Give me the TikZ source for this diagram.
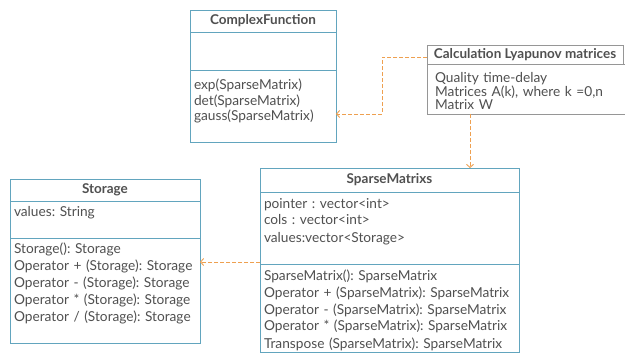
\documentclass[tikz,border=0pt]{standalone}
\usepackage{fontspec}
\setmainfont{Lato}
\frenchspacing
\usetikzlibrary{positioning,arrows.meta}
\definecolor{umlblue}{RGB}{98,165,190}
\definecolor{txtgray}{RGB}{80,80,80}
\definecolor{boxgray}{RGB}{150,150,150}
\definecolor{deporange}{RGB}{238,160,80}
\begin{document}
\begin{tikzpicture}[x=1pt,y=-1pt]
	% Estilos
	\tikzstyle{head} = [rectangle, draw=umlblue, line width=0.8pt, outer sep=0pt, inner xsep=4pt, minimum height=22pt, align=center, text=txtgray, font=\bfseries\fontsize{13.5}{17}\selectfont]
	\tikzstyle{part} = [rectangle, draw=umlblue, line width=0.8pt, outer sep=0pt, inner xsep=4pt, inner ysep=2pt, text height=14pt, align=left, text=txtgray, font=\fontsize{13.7}{17}\selectfont]
	\tikzstyle{dep} = [draw=deporange, line width=0.9pt, dash pattern=on 4pt off 2pt, ->, >={Straight Barb[length=3pt,width=7pt]}]
	\useasboundingbox [fill=white] (0,0) rectangle (625,353);
	% Classe ComplexFunction
	\node (cfHead) [head, text width=138pt, anchor=north west] at (190,10) {ComplexFunction};
	\node (cfAttr) [part, text width=138pt, text depth=20pt, below=0pt of cfHead] {};
	\node (cfMeth) [part, text width=138pt, text height=18pt, text depth=50pt, below=0pt of cfAttr, font=\fontsize{13.7}{15.5}\selectfont] {exp(SparseMatrix)\\det(SparseMatrix)\\gauss(SparseMatrix)};
	% Calculo
	\node (calcHead) [rectangle, draw=boxgray, line width=0.8pt, outer sep=0pt, inner xsep=2pt, minimum width=196pt, minimum height=18pt, anchor=north west, text=txtgray, font=\bfseries\fontsize{13.5}{14}\selectfont] at (427,45) {Calculation Lyapunov matrices};
	\node (calcBody) [part, draw=boxgray, text width=182pt, inner xsep=8pt, text height=17pt, text depth=29pt, anchor=north west, font=\fontsize{13.7}{13.5}\selectfont] at (calcHead.south west) {Quality time-delay\\Matrices A(k), where k =0,n\\Matrix W};
	% Classe Storage
	\node (stoHead) [head, text width=182pt, anchor=north west] at (10,179) {Storage};
	\node (stoAttr) [part, text width=182pt, text depth=19pt, below=0pt of stoHead] {values: String};
	\node (stoMeth) [part, text width=182pt, text depth=87pt, below=0pt of stoAttr] {Storage(): Storage\\Operator + (Storage): Storage\\Operator - (Storage): Storage\\Operator * (Storage): Storage\\Operator / (Storage): Storage};
	% Classe SparseMatrixs
	\node (spHead) [head, text width=251pt, minimum height=24pt, anchor=north west] at (260,168) {SparseMatrixs};
	\node (spAttr) [part, text width=251pt, text depth=54pt, below=0pt of spHead] {pointer : vector<int>\\cols : vector<int>\\values:vector<Storage>};
	\node (spMeth) [part, text width=251pt, text depth=70pt, below=0pt of spAttr] {SparseMatrix(): SparseMatrix\\Operator + (SparseMatrix): SparseMatrix\\Operator - (SparseMatrix): SparseMatrix\\Operator * (SparseMatrix): SparseMatrix\\Transpose (SparseMatrix): SparseMatrix};
	% Setas
	\coordinate (drop) at ([xshift=-56pt]calcBody.south);
	\coordinate (link) at ([yshift=2pt]spAttr.south west);
	\draw [dep] ([yshift=-3pt]calcHead.west) -- ++(-45,0) |- ([yshift=-8pt]cfMeth.east);
	\draw [dep] (drop) -- (drop |- spHead.north);
	\draw [dep] (link) -- (link -| stoMeth.east);
\end{tikzpicture}
\end{document}
